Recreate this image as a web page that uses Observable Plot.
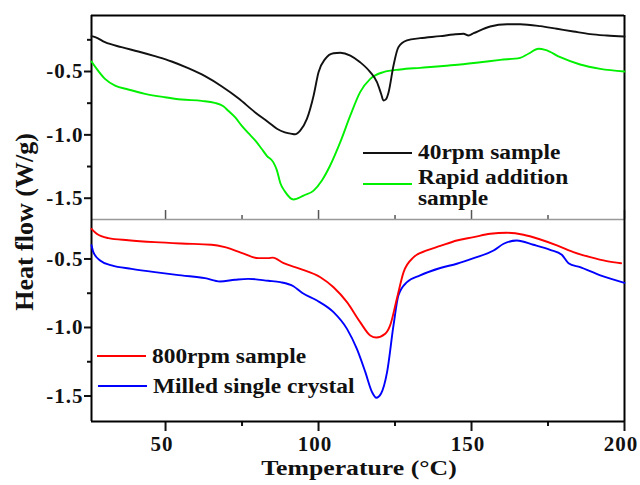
<!DOCTYPE html>
<html><head><meta charset="utf-8">
<script src="https://cdn.jsdelivr.net/npm/d3@7"></script>
<script src="https://cdn.jsdelivr.net/npm/@observablehq/plot@0.6"></script>
<style>
html,body{margin:0;padding:0;background:#fff;}
#chart{position:relative;width:640px;height:485px;overflow:hidden;font-family:"Liberation Serif","Times New Roman",serif;font-weight:bold;color:#111;}
#chart svg{position:absolute;left:0;}
#chart svg text{font-family:"Liberation Serif","Times New Roman",serif !important;}
.lab{position:absolute;white-space:nowrap;font-size:20px;line-height:20.5px;transform-origin:0 50%;transform:scaleX(1.17);}
.key{position:absolute;height:0;width:49px;border-top:2px solid #000;}
</style></head><body><div id="chart"></div>
<script>
// Axis settings (tick values)
const xDomain = [25.8, 200];
const topDomain = [-1.668, -0.058];
const botDomain = [-1.686, -0.212];
const xMajor = [50, 100, 150, 200];
const xMinor = [75, 125, 175];
const yMajor = [-0.5, -1.0, -1.5];
const yMinorTop = [-0.25, -0.75, -1.25];
const yMinorBot = [-0.75, -1.25];

// 40rpm sample (top panel)
const rpm40T = [25.8, 27, 30.2, 35.6, 41.1, 46.5, 52, 57.4, 62.9, 68.3, 73.8, 79.2, 83.6, 86.4, 89, 91.3, 92.3, 94, 96.2, 98.4, 100, 102.2, 104.9, 107.1, 110.4, 113.6, 116.9, 119.1, 120.5, 121.2, 122.0, 122.9, 124.5, 126.1, 128.9, 133.2, 139.8, 144.1, 147.4, 149, 150.7, 156.1, 161.6, 165.9, 172.5, 177.9, 183.3, 188.8, 194.2, 200];
const rpm40V = [-0.221, -0.228, -0.269, -0.308, -0.342, -0.379, -0.421, -0.474, -0.537, -0.616, -0.711, -0.821, -0.900, -0.952, -0.98, -0.992, -0.995, -0.966, -0.874, -0.689, -0.505, -0.40, -0.356, -0.352, -0.374, -0.427, -0.505, -0.584, -0.68, -0.729, -0.72, -0.663, -0.453, -0.308, -0.255, -0.237, -0.221, -0.208, -0.202, -0.216, -0.198, -0.145, -0.127, -0.127, -0.142, -0.163, -0.184, -0.205, -0.216, -0.224];

// Rapid addition sample (top panel)
const rapidT = [25.8, 27.5, 30.2, 33.5, 37.8, 43.3, 49.8, 55.2, 61.8, 66.1, 68.9, 70.5, 72.7, 74.8, 77, 79.5, 81.4, 83.1, 85.2, 86.4, 87.5, 89.1, 91.8, 95.1, 98.4, 101.1, 103.8, 107.1, 110.4, 113.6, 116.9, 121.2, 126.7, 133.2, 139.8, 146.3, 152.9, 159.4, 165.9, 168.6, 171.9, 174.1, 179, 185.5, 192.1, 200];
const rapidV = [-0.421, -0.479, -0.558, -0.611, -0.642, -0.676, -0.703, -0.721, -0.732, -0.747, -0.774, -0.81, -0.86, -0.925, -0.985, -1.05, -1.11, -1.165, -1.215, -1.28, -1.38, -1.45, -1.51, -1.479, -1.44, -1.36, -1.242, -1.058, -0.847, -0.663, -0.558, -0.505, -0.484, -0.471, -0.458, -0.445, -0.427, -0.408, -0.392, -0.360, -0.321, -0.329, -0.387, -0.445, -0.479, -0.50];

// 800rpm sample (bottom panel)
const rpm800T = [25.8, 27.5, 31.3, 37.8, 46.5, 55.2, 65, 69.4, 74.8, 80.3, 83.6, 85, 88.6, 94, 100.6, 104.9, 109.3, 113.6, 116.9, 118.9, 121.8, 123.4, 125.6, 127.8, 131.1, 135.4, 139.8, 145.2, 150.7, 156.1, 161.6, 167, 172.5, 177.9, 183.3, 188.8, 194.2, 198.9];
const rpm800V = [-0.28, -0.316, -0.348, -0.363, -0.377, -0.387, -0.396, -0.414, -0.455, -0.494, -0.494, -0.49, -0.531, -0.572, -0.633, -0.706, -0.815, -0.961, -1.058, -1.073, -1.046, -0.985, -0.79, -0.596, -0.487, -0.438, -0.405, -0.365, -0.341, -0.316, -0.309, -0.323, -0.358, -0.401, -0.45, -0.487, -0.516, -0.531];

// Milled single crystal (bottom panel)
const milledT = [25.8, 26.4, 28.6, 32.4, 38.9, 46.5, 55.2, 62.9, 67.8, 72.7, 77, 83.6, 87.5, 91.8, 94.6, 99.5, 104.9, 109.3, 112.5, 115.3, 117.5, 118.9, 120.4, 122.4, 124.5, 126.1, 128.9, 133.2, 139.8, 145.2, 150.7, 157.2, 160.5, 164.8, 170.2, 175.7, 179.5, 181.7, 185.5, 192.1, 200];
const milledV = [-0.40, -0.45, -0.511, -0.547, -0.572, -0.596, -0.62, -0.64, -0.664, -0.652, -0.645, -0.659, -0.669, -0.699, -0.747, -0.803, -0.888, -1.01, -1.155, -1.326, -1.472, -1.513, -1.484, -1.326, -0.985, -0.766, -0.669, -0.62, -0.566, -0.535, -0.494, -0.438, -0.389, -0.365, -0.396, -0.433, -0.469, -0.531, -0.56, -0.62, -0.674];

const zip = (T, V) => T.map((t, i) => ({t, v: V[i]}));

const FONT = "'Liberation Serif','Times New Roman',serif";
const baseStyle = {background: "transparent", fontFamily: FONT, fontSize: "21px", fontWeight: "bold", letterSpacing: "1px", color: "#111", overflow: "visible"};
const fmt = d => d.toFixed(1);
const lineOpts = (stroke) => ({x: "t", y: "v", stroke, strokeWidth: 1.9, curve: "monotone-x"});

const topPlot = Plot.plot({
  width: 640, height: 221, marginTop: 15, marginBottom: 2, marginLeft: 91, marginRight: 16,
  x: {domain: xDomain, axis: null},
  y: {domain: topDomain},
  style: baseStyle,
  marks: [
    Plot.axisY(yMajor, {tickSize: 7, tickPadding: 1, tickFormat: fmt, strokeWidth: 2, label: null, fontFamily: FONT}),
    Plot.axisY(yMinorTop, {tickSize: 4, tickFormat: () => "", strokeWidth: 2, label: null}),
    Plot.tickX(xMajor, {x: d => d, insetTop: 195, stroke: "#555", strokeWidth: 1.5}),
    Plot.tickX(xMinor, {x: d => d, insetTop: 200, stroke: "#555", strokeWidth: 1.5}),
    Plot.ruleY([topDomain[0]], {stroke: "#999", strokeWidth: 1.5}),
    Plot.ruleY([topDomain[1]], {stroke: "#000", strokeWidth: 2}),
    Plot.ruleX([xDomain[0]], {stroke: "#000", strokeWidth: 2}),
    Plot.ruleX([xDomain[1]], {stroke: "#000", strokeWidth: 2}),
    Plot.line(zip(rapidT, rapidV), lineOpts("#00f000")),
    Plot.line(zip(rpm40T, rpm40V), lineOpts("#111"))
  ]
});

const botPlot = Plot.plot({
  width: 640, height: 266, marginTop: 0, marginBottom: 64, marginLeft: 91, marginRight: 16,
  x: {domain: xDomain},
  y: {domain: botDomain},
  style: baseStyle,
  marks: [
    Plot.axisY(yMajor, {tickSize: 7, tickPadding: 1, tickFormat: fmt, strokeWidth: 2, label: null, fontFamily: FONT}),
    Plot.axisY(yMinorBot, {tickSize: 4, tickFormat: () => "", strokeWidth: 2, label: null}),
    Plot.axisX(xMajor, {tickSize: 10, tickFormat: () => "", strokeWidth: 2, label: null}),
    Plot.axisX(xMajor, {tickSize: 0, tickPadding: 15, tickFormat: d => String(d), label: null, fontFamily: FONT, dx: -3.5}),
    Plot.axisX(xMinor, {tickSize: 5, tickFormat: () => "", strokeWidth: 2, label: null}),
    Plot.ruleY([botDomain[0]], {stroke: "#000", strokeWidth: 2}),
    Plot.ruleX([xDomain[0]], {stroke: "#000", strokeWidth: 2}),
    Plot.ruleX([xDomain[1]], {stroke: "#000", strokeWidth: 2}),
    Plot.line(zip(milledT, milledV), lineOpts("#0000ff")),
    Plot.line(zip(rpm800T, rpm800V), lineOpts("#ff0000"))
  ]
});

const chart = document.getElementById("chart");
topPlot.style.top = "0px";
botPlot.style.top = "219px";
chart.appendChild(topPlot);
chart.appendChild(botPlot);

function add(html, css, cls) {
  const d = document.createElement("div");
  if (cls) d.className = cls;
  d.innerHTML = html;
  Object.assign(d.style, css);
  chart.appendChild(d);
  return d;
}
// legends
add("", {left: "363px", top: "152px", borderTopColor: "#111"}, "key");
add("40rpm sample", {left: "418px", top: "142px"}, "lab");
add("", {left: "363px", top: "183px", borderTopColor: "#00f000"}, "key");
add("Rapid addition<br>sample", {left: "418px", top: "167px"}, "lab");
add("", {left: "97px", top: "355px", borderTopColor: "#ff0000"}, "key");
add("800rpm sample", {left: "152px", top: "346px"}, "lab");
add("", {left: "98px", top: "385px", borderTopColor: "#0000ff"}, "key");
add("Milled single crystal", {left: "153px", top: "376px"}, "lab");
// axis titles
add("Temperature (°C)", {left: "359px", top: "457px", fontSize: "22px", lineHeight: "22px", transformOrigin: "50% 50%", transform: "translateX(-50%) scaleX(1.17)"}, "lab");
add("Heat flow (W/g)", {left: "25px", top: "222px", fontSize: "26px", lineHeight: "26px", transformOrigin: "50% 50%", transform: "translate(-50%,-50%) rotate(-90deg)"}, "lab");
</script></body></html>
